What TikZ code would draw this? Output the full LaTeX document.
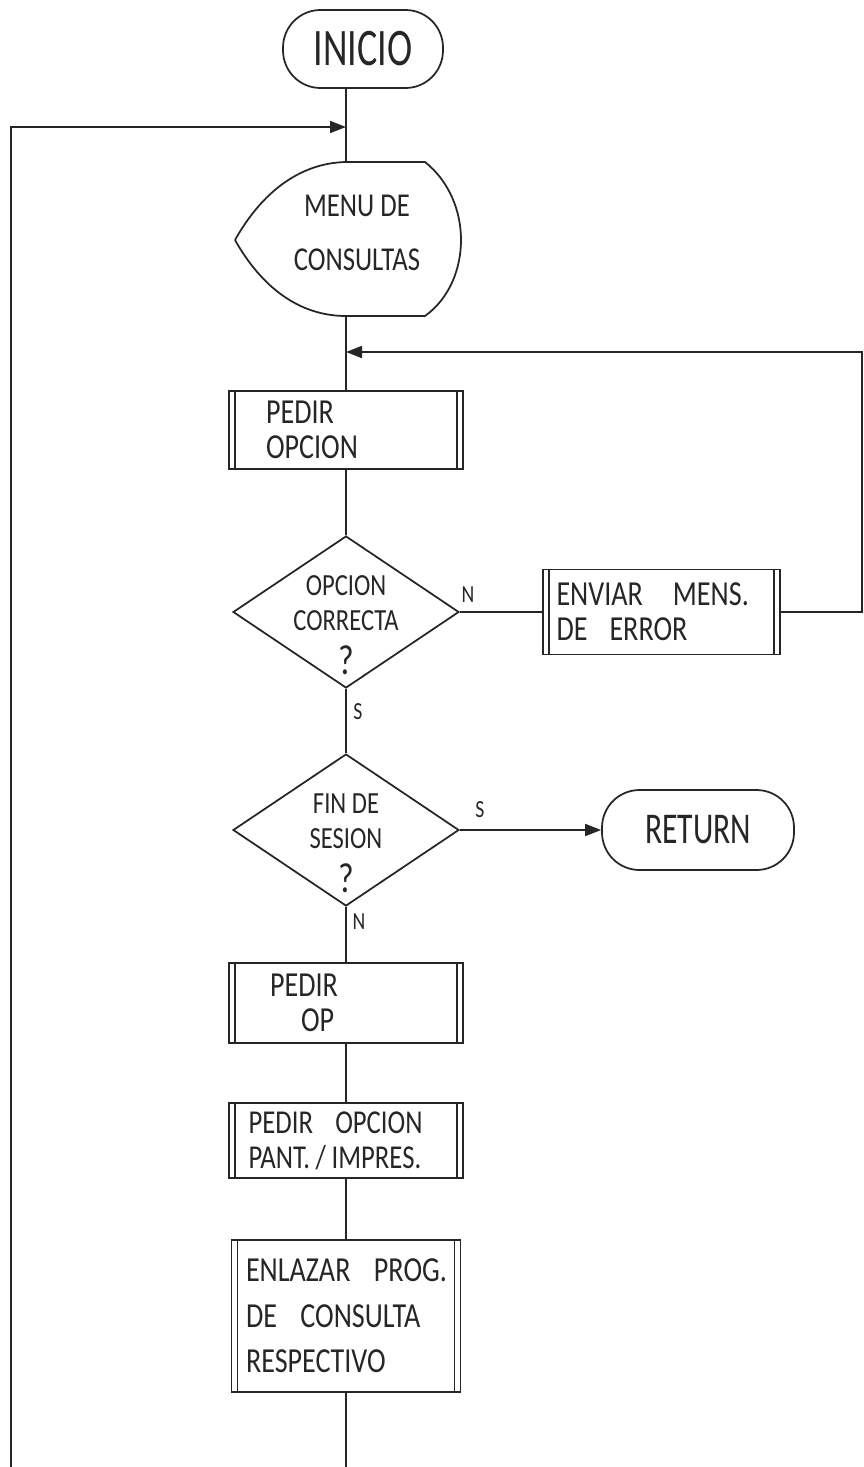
\documentclass[tikz,border=0pt]{standalone}
\usepackage{fontspec}
\setmainfont[FakeStretch=0.8]{Carlito}
\newfontfamily\narrowfont[FakeStretch=0.72]{Carlito}
\usetikzlibrary{shapes.geometric,arrows.meta}

\newcommand{\boxfont}{\fontsize{20}{19.9}\selectfont}
\newcommand{\diafont}{\fontsize{17.5}{19.9}\selectfont}
\newcommand{\qfont}{\fontsize{24}{19.9}\selectfont}
\newcommand{\menufont}{\fontsize{19}{31}\selectfont}
\newcommand{\termfont}{\narrowfont\fontsize{30}{30}\selectfont}
\newcommand{\flagfont}{\fontsize{14}{14}\selectfont}

\tikzset{
  term/.style={draw, rectangle, rounded corners=0.75cm, inner sep=0pt},
  proc/.style={draw, rectangle, align=left, inner ysep=0pt, font=\boxfont,
    path picture={
      \draw ([xshift=0.12cm]path picture bounding box.north west) -- ([xshift=0.12cm]path picture bounding box.south west);
      \draw ([xshift=-0.12cm]path picture bounding box.north east) -- ([xshift=-0.12cm]path picture bounding box.south east);
    }},
  decision/.style={draw, diamond, inner sep=0pt, minimum width=4.52cm, minimum height=3.04cm},
  diatext/.style={align=center, font=\diafont, yshift=-0.26cm},
  menutext/.style={align=center, font=\menufont, inner sep=0pt},
  flag/.style={font=\flagfont, inner sep=0pt},
  tip/.style={-{Triangle[length=0.32cm,width=0.24cm]}},
}

\begin{document}
\begin{tikzpicture}[x=0.02cm, y=-0.02cm, line width=1pt, color=black!85]
  \useasboundingbox (0,0) rectangle (863,1467);

  % start and menu display
  \node[term, minimum width=3.2cm, minimum height=1.56cm, font=\termfont] (inicio) at (363,49) {INICIO};
  \coordinate (lin) at (346,127);
  \coordinate (mtop) at (346,162);
  \coordinate (mbot) at (346,316);
  \draw (235,240) .. controls (262,192) and (300,163) .. (mtop) -- (425,162)
    .. controls (450,182) and (461,212) .. (461,240)
    .. controls (461,268) and (450,298) .. (425,316) -- (mbot)
    .. controls (300,316) and (262,288) .. (235,240);
  \node[menutext] (menu) at (357,233) {MENU~DE\\CONSULTAS};

  % option loop
  \coordinate (rin) at (346,352);
  \node[proc, minimum height=1.56cm, text width=3.2cm, inner xsep=0.74cm] (pedir) at (346,430) {PEDIR\\OPCION};
  \node[decision, label={[diatext]center:{OPCION\\CORRECTA\\[5pt]{\qfont ?}}}] (opc) at (346,612) {};
  \node[proc, minimum height=1.7cm, text width=4.2cm, inner xsep=0.27cm] (enviar) at (661.5,612) {ENVIAR\hspace{0.6cm}MENS.\\DE\hspace{0.44cm}ERROR};
  \coordinate (rcorner) at (862,612);
  \coordinate (rtop) at (862,352);
  \node[flag] (flagn1) at (468,595) {N};
  \node[flag] (flags1) at (358,712) {S};

  % end of session
  \node[decision, label={[diatext]center:{FIN~DE\\SESION\\[5pt]{\qfont ?}}}] (fin) at (346,830) {};
  \node[term, minimum width=3.84cm, minimum height=1.6cm, font=\narrowfont\fontsize{25}{25}\selectfont] (ret) at (698,830) {RETURN};
  \node[flag] (flags2) at (480,810) {S};
  \node[flag] (flagn2) at (359,922) {N};

  % query program
  \node[proc, minimum height=1.6cm, text width=3.04cm, inner xsep=0.82cm] (op) at (346,1003) {PEDIR\\\hspace*{0.62cm}OP};
  \node[proc, minimum height=1.5cm, text width=3.9cm, inner xsep=0.39cm, font=\fontsize{19}{19.9}\selectfont] (pant) at (346,1140.5) {PEDIR~~OPCION\\PANT.\,/\,IMPRES.};
  \node[proc, minimum height=3.04cm, text width=4.0cm, inner xsep=0.29cm, font=\fontsize{20}{26}\selectfont] (enl) at (346,1316) {ENLAZAR~~PROG.\\DE~~CONSULTA\\RESPECTIVO};
  \coordinate (bot) at (346,1467);
  \coordinate (lbot) at (11,1467);
  \coordinate (lcorner) at (11,127);

  % connectors
  \draw (inicio.south -| mtop) -- (mtop);
  \draw[tip] (lbot) -- (lcorner) -- (lin);
  \draw (mbot) -- (pedir.north);
  \draw[tip] (enviar.east) -- (rcorner) -- (rtop) -- (rin);
  \draw (pedir.south) -- (opc.north);
  \draw (opc.east) -- (enviar.west);
  \draw (opc.south) -- (fin.north);
  \draw[tip] (fin.east) -- (ret.west);
  \draw (fin.south) -- (op.north);
  \draw (op.south) -- (pant.north);
  \draw (pant.south) -- (enl.north);
  \draw (enl.south) -- (bot);
\end{tikzpicture}
\end{document}
